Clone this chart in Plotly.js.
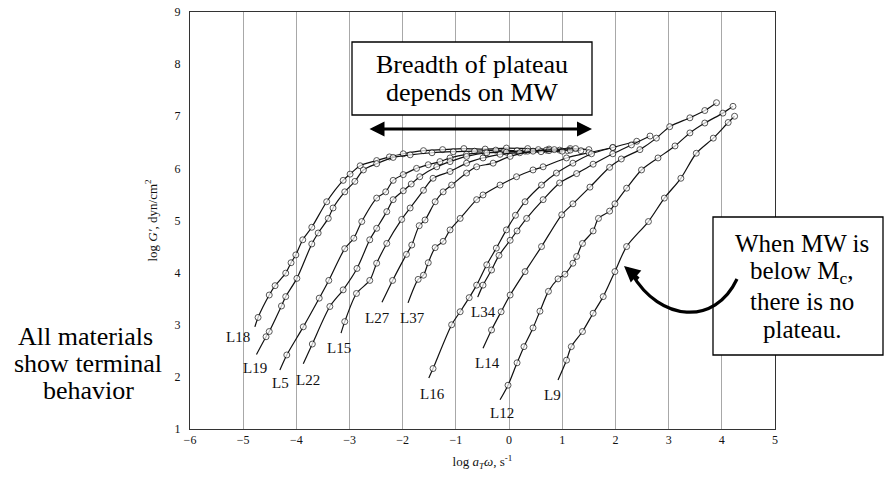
<!DOCTYPE html>
<html><head><meta charset="utf-8">
<script src="https://cdn.plot.ly/plotly-3.0.1.min.js"></script>
<style>html,body{margin:0;padding:0;background:#fff}#chart{width:888px;height:480px}</style>
</head><body><div id="chart"></div>
<script>
// ---- data (log aT*omega, log G') ----
const seriesNames = ["L18","L19","L5","L22","L15","L27","L37","L16","L34","L14","L12","L9"];

const L18_x = [-4.78,-4.72,-4.51,-4.40,-4.20,-4.10,-4.01,-3.88,-3.71,-3.43,-3.12,-2.99,-2.80,-2.49,-2.25,-1.99,-1.61,-1.25,-0.85,-0.45,-0.05,0.35,0.75,1.15,1.50];
const L18_y = [2.96,3.14,3.57,3.75,3.99,4.19,4.34,4.63,4.87,5.36,5.77,5.89,6.05,6.15,6.22,6.28,6.34,6.36,6.38,6.37,6.39,6.38,6.37,6.38,6.36];

const L19_x = [-4.75,-4.57,-4.51,-4.28,-4.20,-3.99,-3.71,-3.59,-3.40,-3.31,-3.09,-2.90,-2.74,-2.49,-2.18,-1.86,-1.45,-1.05,-0.65,-0.25,0.15,0.55,0.95,1.35];
const L19_y = [2.43,2.77,2.87,3.36,3.54,3.89,4.55,4.76,5.04,5.24,5.55,5.75,5.97,6.09,6.21,6.26,6.30,6.32,6.33,6.35,6.34,6.36,6.35,6.34];

const L5_x = [-4.31,-4.18,-3.87,-3.57,-3.39,-3.09,-2.92,-2.77,-2.49,-2.32,-2.18,-1.99,-1.74,-1.52,-1.30,-1.11,-0.80,-0.45,-0.10,0.30,0.70,1.10];
const L5_y = [2.13,2.42,2.96,3.51,3.85,4.46,4.66,4.98,5.43,5.55,5.77,5.88,6.00,6.07,6.13,6.20,6.27,6.30,6.32,6.33,6.35,6.34];

const L22_x = [-3.87,-3.70,-3.37,-3.12,-2.86,-2.62,-2.49,-2.30,-2.18,-1.99,-1.84,-1.68,-1.36,-1.11,-0.80,-0.42,-0.05,0.35,0.75,1.15];
const L22_y = [2.25,2.63,3.35,3.67,4.08,4.63,4.85,5.17,5.40,5.57,5.70,5.84,6.03,6.13,6.23,6.30,6.31,6.33,6.34,6.35];

const L15_x = [-3.16,-3.09,-2.87,-2.62,-2.49,-2.30,-2.02,-1.86,-1.61,-1.43,-1.11,-0.80,-0.49,-0.17,0.20,0.60,1.00];
const L15_y = [2.84,3.06,3.60,3.85,4.18,4.56,5.02,5.24,5.58,5.81,5.94,6.10,6.20,6.27,6.30,6.32,6.33];

const L27_x = [-2.39,-2.19,-1.93,-1.83,-1.69,-1.58,-1.39,-1.24,-1.08,-0.80,-0.61,-0.30,0.02,0.45,0.85,1.25];
const L27_y = [3.43,3.85,4.35,4.53,4.90,5.01,5.36,5.55,5.68,5.91,6.03,6.10,6.23,6.33,6.36,6.38];

const L37_x = [-1.90,-1.71,-1.61,-1.52,-1.39,-1.24,-1.11,-0.92,-0.61,-0.49,-0.17,0.14,0.45,0.64,1.08,1.50,1.95];
const L37_y = [3.42,3.87,3.95,4.19,4.48,4.60,4.82,5.04,5.40,5.49,5.68,5.84,5.97,6.03,6.20,6.30,6.40];

const L16_x = [-1.51,-1.43,-1.08,-0.92,-0.75,-0.61,-0.42,-0.24,-0.05,0.12,0.30,0.61,0.89,1.20,1.55,1.95,2.40];
const L16_y = [1.98,2.16,3.00,3.25,3.52,3.76,4.15,4.47,4.82,5.10,5.36,5.68,5.91,6.10,6.28,6.40,6.52];

const L34_x = [-0.59,-0.49,-0.33,-0.19,0.02,0.15,0.33,0.64,0.95,1.27,1.58,1.95,2.30,2.65];
const L34_y = [3.53,3.76,4.05,4.33,4.62,4.80,5.04,5.40,5.72,5.90,6.08,6.28,6.45,6.62];

const L14_x = [-0.49,-0.33,-0.15,0.02,0.30,0.61,0.99,1.20,1.52,1.89,2.11,2.46,2.77,3.02,3.40,3.68,3.90];
const L14_y = [2.55,2.90,3.25,3.57,4.02,4.50,5.11,5.32,5.64,6.02,6.18,6.36,6.58,6.80,6.97,7.11,7.26];

const L12_x = [-0.17,-0.02,0.15,0.28,0.45,0.58,0.74,0.92,1.05,1.20,1.27,1.38,1.58,1.68,1.89,1.99,2.21,2.49,2.80,3.12,3.40,3.68,4.02,4.21];
const L12_y = [1.56,1.84,2.27,2.58,2.94,3.26,3.64,3.88,3.97,4.18,4.31,4.56,4.80,5.04,5.18,5.32,5.62,5.97,6.20,6.43,6.68,6.87,7.06,7.19];

const L9_x = [0.92,1.08,1.17,1.38,1.58,1.77,1.99,2.21,2.62,2.92,3.23,3.52,3.84,4.12,4.24];
const L9_y = [1.94,2.32,2.58,2.87,3.22,3.54,4.02,4.50,4.98,5.43,5.81,6.29,6.58,6.88,7.00];

const xTicks = [-6,-5,-4,-3,-2,-1,0,1,2,3,4,5];
const yTicks = [1,2,3,4,5,6,7,8,9];

const seriesX = [L18_x,L19_x,L5_x,L22_x,L15_x,L27_x,L37_x,L16_x,L34_x,L14_x,L12_x,L9_x];
const seriesY = [L18_y,L19_y,L5_y,L22_y,L15_y,L27_y,L37_y,L16_y,L34_y,L14_y,L12_y,L9_y];

// ---- layout helpers (pixel -> data / paper) ----
const PL=190, PR=775, PT=12, PB=429;
const px2x = p => -6 + (p-PL)*11/(PR-PL);
const py2y = p => 1 + (PB-p)*8/(PB-PT);
const px2p = p => (p-PL)/(PR-PL);
const py2p = p => (PB-p)/(PB-PT);

const serif = "Liberation Serif, Times New Roman, serif";

const traces = seriesNames.map((n,i)=>({
  type:'scatter', mode:'lines+markers', name:n,
  x: seriesX[i], y: seriesY[i],
  line:{color:'#111', width:1.2, shape:'spline', smoothing:0.8},
  marker:{symbol:'circle', color:'white', size: seriesX[i].map((v,k)=>k===0?0:6),
          line:{color:'#111', width:1}},
  hoverinfo:'name+x+y'
}));

// curve label positions (pixels)
const labelPx = {L18:[238,337],L19:[255,368],L5:[280,383],L22:[308,380],L15:[339,348],
  L27:[377,318],L37:[412,318],L16:[432,394],L34:[483,312],L14:[487,363],L12:[502,413],L9:[552,395]};

const annotations = seriesNames.map(n=>({
  x:px2x(labelPx[n][0]), y:py2y(labelPx[n][1]), xref:'x', yref:'y',
  text:n, showarrow:false, font:{family:serif, size:15, color:'#111'}
}));

function ptxt(text, cx, cy, size){
  return {x:px2p(cx), y:py2p(cy), xref:'paper', yref:'paper', text:text, showarrow:false,
    xanchor:'center', yanchor:'middle', font:{family:serif, size:size||26, color:'#000'}};
}

annotations.push(ptxt('Breadth of plateau', 472, 64));
annotations.push(ptxt('depends on MW', 472, 92));
annotations.push(ptxt('All materials', 85, 336));
annotations.push(ptxt('show terminal', 88, 363));
annotations.push(ptxt('behavior', 88, 390));
annotations.push(ptxt('When MW is', 802, 243, 25));
annotations.push(ptxt('below M<sub>c</sub>,', 802, 272, 25));
annotations.push(ptxt('there is no', 802, 301, 25));
annotations.push(ptxt('plateau.', 802, 329, 25));

// double-headed arrow
annotations.push({x:px2x(592), y:py2y(129), ax:px2x(368), ay:py2y(129), xref:'x', yref:'y', axref:'x', ayref:'y',
  showarrow:true, arrowside:'end+start', arrowhead:2, arrowsize:1, arrowwidth:3, arrowcolor:'#000', text:''});
// curved arrow head
annotations.push({x:px2x(624), y:py2y(266), ax:16, ay:14, xref:'x', yref:'y',
  showarrow:true, arrowhead:2, arrowsize:1, arrowwidth:3.2, arrowcolor:'#000', text:''});

const P = (px,py)=> px2x(px).toFixed(4)+','+py2y(py).toFixed(4);

const shapes = [
  {type:'rect', xref:'paper', yref:'paper', x0:px2p(352), x1:px2p(592), y0:py2p(42), y1:py2p(115),
   line:{color:'#000', width:1.3}, fillcolor:'white', layer:'above'},
  {type:'rect', xref:'paper', yref:'paper', x0:px2p(713), x1:px2p(883), y0:py2p(217), y1:py2p(355),
   line:{color:'#000', width:1.3}, fillcolor:'white', layer:'above'},
  {type:'path', xref:'x', yref:'y', path:'M'+P(737,279)+' C'+P(715,326)+' '+P(660,322)+' '+P(632,274),
   line:{color:'#000', width:3.2}, layer:'above'}
];

const layout = {
  width:888, height:480, margin:{l:PL, r:888-PR, t:PT, b:480-PB},
  paper_bgcolor:'white', plot_bgcolor:'white', showlegend:false,
  font:{family:serif, color:'#111'},
  xaxis:{range:[-6,5], tickvals:xTicks, showgrid:true, gridcolor:'#a8a8a8', gridwidth:1,
    zeroline:false, showline:true, linecolor:'#333', linewidth:1, mirror:true, ticks:'',
    tickfont:{family:serif, size:12, color:'#111'},
    title:{text:'log <i>a<sub>T</sub>ω</i>, s<sup>-1</sup>', font:{family:serif, size:13, color:'#111'}, standoff:10}},
  yaxis:{range:[1,9], tickvals:yTicks, showgrid:false, zeroline:false, showline:true,
    linecolor:'#333', linewidth:1, mirror:true, ticks:'', ticklabelstandoff:6,
    tickfont:{family:serif, size:12, color:'#111'},
    title:{text:'log <i>G′</i>, dyn/cm<sup>2</sup>', font:{family:serif, size:13, color:'#111'}, standoff:14}},
  annotations: annotations, shapes: shapes
};

Plotly.newPlot('chart', traces, layout, {displayModeBar:false, staticPlot:true});
</script></body></html>
